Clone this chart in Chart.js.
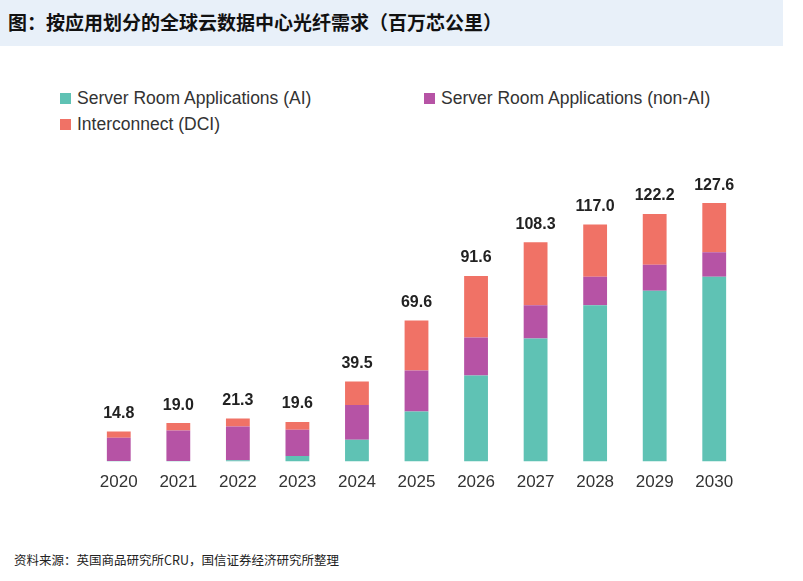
<!DOCTYPE html>
<html><head><meta charset="utf-8">
<script src="https://cdn.jsdelivr.net/npm/chart.js@4"></script>
<style>
body{margin:0;width:803px;height:581px;background:#fff;font-family:"Liberation Sans",Arial,sans-serif;position:relative;overflow:hidden}
#title{position:absolute;left:0;top:0;width:775px;height:46px;background:#e8f0f9;font-family:"Noto Sans CJK SC";font-weight:bold;font-size:19px;line-height:44px;padding-left:8px;color:#111}
#legend{position:absolute;left:60px;top:88px;font-size:17.5px;color:#333}
.it{position:absolute;white-space:nowrap}
.sw{display:inline-block;width:11px;height:11px;margin-right:6px;vertical-align:0}
#src{position:absolute;left:14px;top:550px;font-family:"Noto Sans CJK SC";font-size:12.5px;color:#222}
#wrap{position:absolute;left:89px;top:158px;width:655px;height:338px}
</style></head><body>
<div id="title">图：按应用划分的全球云数据中心光纤需求（百万芯公里）</div>
<div id="legend">
<div class="it" style="left:0;top:0"><span class="sw" style="background:#5fc2b4"></span>Server Room Applications (AI)</div>
<div class="it" style="left:364px;top:0"><span class="sw" style="background:#b653a5"></span>Server Room Applications (non-AI)</div>
<div class="it" style="left:0;top:26px"><span class="sw" style="background:#f07266"></span>Interconnect (DCI)</div>
</div>
<div id="wrap"><canvas id="c"></canvas></div>
<div id="src">资料来源：英国商品研究所CRU，国信证券经济研究所整理</div>
<script>
const years = ["2020","2021","2022","2023","2024","2025","2026","2027","2028","2029","2030"];
const aiValues = [0.3, 0.3, 0.7, 2.8, 10.8, 24.7, 42.5, 60.8, 77.2, 84.3, 91.3];
const nonAiValues = [11.5, 15.0, 16.6, 12.9, 17.2, 20.3, 18.8, 16.4, 14.1, 12.9, 12.0];
const dciValues = [3.0, 3.7, 4.0, 3.9, 11.5, 24.6, 30.3, 31.1, 25.7, 25.0, 24.3];
const totalLabels = ["14.8","19.0","21.3","19.6","39.5","69.6","91.6","108.3","117.0","122.2","127.6"];

const totalsPlugin = {
    id: "totals",
    afterDatasetsDraw(chart) {
        const ctx = chart.ctx;
        const meta = chart.getDatasetMeta(2);
        ctx.save();
        ctx.font = "bold 16px 'Liberation Sans', Arial";
        ctx.fillStyle = "#222";
        ctx.textAlign = "center";
        ctx.textBaseline = "bottom";
        meta.data.forEach(function(bar, i) {
            ctx.fillText(totalLabels[i], bar.x, bar.y - 10);
        });
        ctx.restore();
    }
};

new Chart(document.getElementById("c"), {
    type: "bar",
    data: {
        labels: years,
        datasets: [
            {label: "AI", data: aiValues, backgroundColor: "#5fc2b4"},
            {label: "non-AI", data: nonAiValues, backgroundColor: "#b653a5"},
            {label: "DCI", data: dciValues, backgroundColor: "#f07266"}
        ]
    },
    options: {
        responsive: true,
        maintainAspectRatio: false,
        animation: false,
        layout: {padding: {top: 20}},
        datasets: {bar: {barPercentage: 0.4, categoryPercentage: 1}},
        plugins: {legend: {display: false}, tooltip: {enabled: false}},
        scales: {
            x: {stacked: true, grid: {display: false}, border: {display: false},
                ticks: {color: "#333", font: {size: 17, family: "Liberation Sans"}}},
            y: {stacked: true, min: 0, max: 140, grid: {display: false}, border: {display: false},
                afterFit: function(axis) { axis.width = 0; },
                ticks: {stepSize: 20, color: "#333", padding: -41, font: {size: 17, family: "Liberation Sans"}}}
        }
    },
    plugins: [totalsPlugin]
});
</script>
</body></html>
